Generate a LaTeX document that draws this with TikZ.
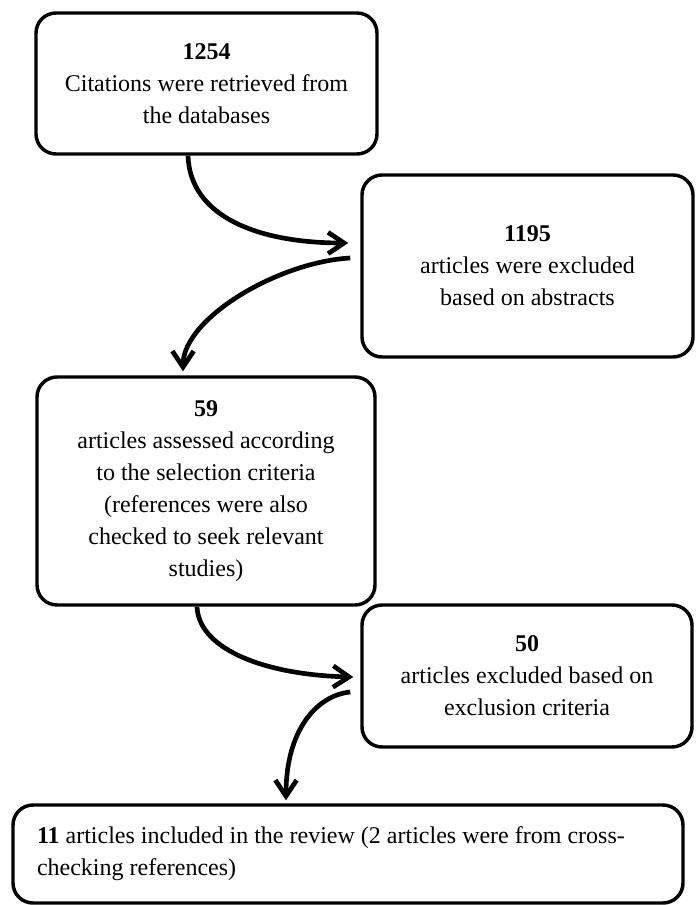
\documentclass[tikz,border=0pt]{standalone}
\usepackage{fontspec}
\setmainfont{Liberation Serif}
\usetikzlibrary{arrows.meta,calc}
\begin{document}
\begin{tikzpicture}[x=0.75pt,y=-0.75pt,
  box/.style={draw, line width=2.6pt, rounded corners=15pt, align=center,
    font=\fontsize{18}{24}\selectfont, inner sep=0pt},
  flow/.style={line width=3.5pt, -{Straight Barb[length=12pt,width=16pt]}}]
\useasboundingbox (0,0) rectangle (696,905);
\node[box, minimum width=255.75pt, minimum height=105.75pt] (b1) at (206.5,83.5)
  {\textbf{1254}\\Citations were retrieved from\\the databases};
\node[box, minimum width=248.25pt, minimum height=136.5pt] (b2) at (527.5,266)
  {\textbf{1195}\\articles were excluded\\based on abstracts};
\node[box, minimum width=253.5pt, minimum height=171pt] (b3) at (206,491)
  {\textbf{59}\\articles assessed according\\to the selection criteria\\(references were also\\checked to seek relevant\\studies)};
\node[box, minimum width=247.5pt, minimum height=106.5pt] (b4) at (527,676)
  {\textbf{50}\\articles excluded based on\\exclusion criteria};
\node[box, align=flush left, inner xsep=18pt, text width=466.5pt, minimum height=73.5pt] (b5) at (348,854)
  {\textbf{11} articles included in the review (2 articles were from cross-\\checking references)};
\draw[flow] ($(b1.south)+(-18.5,0)$) .. controls +(2,61) and +(-90,0) .. ($(b2.west)+(-12,-23)$);
\draw[flow] ($(b2.west)+(-10,-8)$) .. controls +(-72,4) and +(0,-53) .. ($(b3.north)+(-23,-4)$);
\draw[flow] ($(b3.south)+(-9,0)$) .. controls +(2,44) and +(-85,-2) .. ($(b4.west)+(-7,1)$);
\draw[flow] ($(b4.west)+(-10,16)$) .. controls +(-32,3) and +(0,-72) .. ($(b5.north)+(-62,-3)$);
\end{tikzpicture}
\end{document}
